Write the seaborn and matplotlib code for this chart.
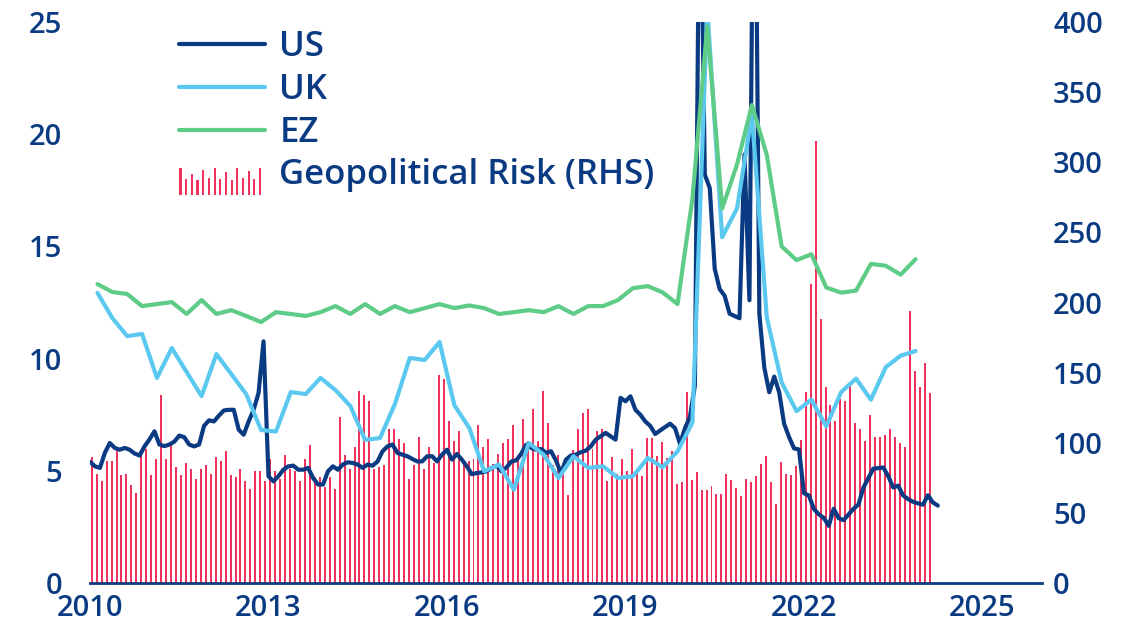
import numpy as np
import pandas as pd
import matplotlib
matplotlib.use("Agg")
import matplotlib.pyplot as plt
import seaborn as sns
from matplotlib.legend_handler import HandlerBase
from matplotlib.patches import Rectangle

# Datos: índices de incertidumbre (eje izq.) y riesgo geopolítico (eje der.)
us = [
    5.40, 5.20, 5.13, 5.80, 6.24, 6.02, 5.94, 6.02, 5.94, 5.77, 5.68, 6.09,
    6.40, 6.76, 6.17, 6.10, 6.17, 6.30, 6.57, 6.50, 6.17, 6.09, 6.17, 7.00,
    7.25, 7.20, 7.46, 7.69, 7.72, 7.72, 6.83, 6.61, 7.20, 7.72, 8.47, 10.77,
    4.76, 4.53, 4.76, 5.05, 5.20, 5.23, 5.05, 5.05, 5.13, 4.68, 4.39, 4.39,
    4.98, 5.20, 5.05, 5.28, 5.38, 5.35, 5.28, 5.13, 5.28, 5.23, 5.42, 5.87,
    6.09, 6.17, 5.80, 5.72, 5.65, 5.53, 5.42, 5.42, 5.65, 5.65, 5.42, 5.72,
    5.94, 5.50, 5.75, 5.50, 5.20, 4.85, 4.90, 4.93, 4.98, 5.13, 5.23, 4.98,
    5.15, 5.42, 5.47, 5.77, 6.17, 6.02, 5.94, 5.97, 5.80, 5.87, 5.45, 4.90,
    5.50, 5.68, 5.72, 5.83, 5.90, 6.09, 6.39, 6.54, 6.69, 6.54, 6.39, 8.25,
    8.10, 8.32, 7.72, 7.50, 7.20, 7.00, 6.64, 6.80, 6.95, 7.10, 6.90, 6.20,
    6.90, 7.40, 8.80, 34.0, 18.2, 17.6, 14.0, 13.1, 12.8, 12.0, 11.9, 11.8,
    19.1, 12.6, 38.0, 12.0, 9.60, 8.50, 9.20, 8.50, 7.10, 6.50, 6.00, 5.95,
    4.00, 3.90, 3.30, 3.06, 2.90, 2.55, 3.31, 2.89, 2.80, 3.06, 3.31, 3.50,
    4.26, 4.68, 5.10, 5.12, 5.15, 4.76, 4.26, 4.34, 3.90, 3.74, 3.62, 3.55,
    3.49, 3.91, 3.59, 3.45,
]

uk = [
    12.93, 11.81, 11.00, 11.10, 9.14, 10.47, 9.40, 8.33, 10.20, 9.31, 8.42, 6.82,
    6.75, 8.51, 8.42, 9.14, 8.60, 7.89, 6.38, 6.46, 7.98, 10.03, 9.94, 10.74,
    7.92, 6.91, 4.98, 5.28, 4.16, 6.24, 5.72, 4.68, 5.65, 5.13, 5.20, 4.68,
    4.76, 5.57, 5.16, 5.87, 7.15, 25.6, 15.41, 16.69, 20.87, 11.84, 8.94, 7.66,
    8.17, 6.98, 8.51, 9.11, 8.17, 9.62, 10.13, 10.34,
]

ez = [
    13.32, 12.97, 12.88, 12.34, 12.43, 12.52, 11.99, 12.61, 11.99, 12.16, 11.90, 11.63,
    12.07, 11.99, 11.90, 12.07, 12.34, 11.99, 12.43, 11.99, 12.34, 12.07, 12.25, 12.43,
    12.25, 12.37, 12.25, 11.99, 12.07, 12.16, 12.07, 12.34, 11.99, 12.34, 12.34, 12.61,
    13.14, 13.23, 12.95, 12.43, 17.12, 24.80, 16.69, 18.65, 21.30, 19.08, 15.00, 14.39,
    14.65, 13.17, 12.94, 13.03, 14.22, 14.14, 13.74, 14.43,
]

gpr = [
    89.6, 78.0, 72.5, 86.8, 86.8, 93.9, 76.8, 78.0, 69.7, 64.0, 91.0, 95.3,
    76.8, 88.2, 133.8, 88.2, 99.6, 82.5, 76.8, 85.3, 81.0, 73.9, 81.0, 83.9,
    78.0, 89.6, 86.8, 93.9, 76.8, 75.4, 81.0, 72.5, 66.8, 79.6, 79.6, 72.5,
    88.2, 79.6, 73.9, 91.0, 81.0, 79.6, 72.5, 88.2, 98.2, 75.4, 75.4, 68.2,
    75.4, 66.8, 118.1, 91.0, 81.0, 96.8, 136.7, 133.8, 129.6, 81.0, 82.5, 83.9,
    109.6, 109.6, 102.5, 99.6, 73.9, 83.9, 103.9, 81.0, 96.8, 85.3, 148.0, 145.2,
    115.3, 101.1, 108.2, 86.8, 86.8, 88.2, 112.4, 96.8, 102.5, 85.0, 92.0, 99.6,
    102.5, 112.4, 86.8, 116.7, 101.1, 123.8, 101.1, 136.7, 113.8, 83.9, 91.0, 81.0,
    62.5, 95.0, 109.6, 121.0, 123.8, 95.3, 108.2, 109.6, 72.5, 89.6, 78.0, 88.2,
    79.6, 95.3, 78.9, 76.3, 103.3, 103.3, 90.8, 100.2, 89.3, 94.0, 70.6, 72.2,
    135.9, 73.7, 78.9, 66.0, 66.0, 69.1, 63.4, 63.4, 77.4, 73.2, 67.5, 61.8,
    74.2, 71.7, 76.3, 85.1, 90.8, 71.7, 56.1, 86.2, 77.9, 76.8, 83.5, 101.7,
    135.9, 213.0, 315.0, 188.0, 139.5, 126.7, 115.3, 131.0, 129.5, 141.0, 113.9, 109.6,
    101.0, 119.6, 103.9, 103.9, 105.3, 109.6, 103.9, 99.6, 96.8, 193.7, 151.0, 139.5,
    156.6, 135.3,
]

labels = ["US", "UK", "EZ", "Geopolitical Risk (RHS)"]
year_ticks = [2010, 2013, 2016, 2019, 2022, 2025]

NAVY = "#0a3a82"
LIGHT = "#5bc8f0"
GREEN = "#5ecc87"
RED = "#f0335c"


def decimal_year(dates, offset_months=0.0):
    return np.asarray(dates.year + (dates.month - 1 + offset_months) / 12)


us_x = decimal_year(pd.date_range("2010-01-01", periods=len(us), freq="MS"))
q_x = decimal_year(pd.date_range("2010-01-01", periods=len(uk), freq="QS"), 1.5)
gpr_x = decimal_year(pd.date_range("2010-01-01", periods=len(gpr), freq="MS"), 0.35)


class HandlerBars(HandlerBase):
    """Leyenda con varias barritas, como en el gráfico original."""
    def create_artists(self, legend, orig_handle, xdescent, ydescent,
                       width, height, fontsize, trans):
        hs = [1.0, 0.6, 0.8, 0.55, 0.95, 0.65, 1.0, 0.6, 0.85, 0.55, 1.0, 0.65, 0.9, 0.6, 1.0]
        step = width / len(hs)
        arts = []
        for i, h in enumerate(hs):
            arts.append(Rectangle((-xdescent + i * step, -ydescent - height * 0.45),
                                  step * 0.36, height * 1.12 * h,
                                  facecolor=RED, edgecolor="none", transform=trans))
        return arts


sns.set_style("white")
plt.rcParams["font.family"] = ["Open Sans", "DejaVu Sans"]

fig = plt.figure(figsize=(11.45, 6.34), dpi=100)
ax1 = fig.add_axes([0.0786, 0.0804, 0.8314, 0.8849])
ax2 = ax1.twinx()

# Barras de riesgo geopolítico (eje derecho)
ax2.bar(gpr_x, gpr, width=0.4 / 12, color=RED, linewidth=0)
ax2.set_ylim(0, 400)
ax2.set_yticks(range(0, 401, 50))

# Líneas (eje izquierdo)
sns.lineplot(x=us_x, y=us, ax=ax1, color=NAVY, linewidth=3, label="US")
sns.lineplot(x=q_x, y=uk, ax=ax1, color=LIGHT, linewidth=3, label="UK")
sns.lineplot(x=q_x, y=ez, ax=ax1, color=GREEN, linewidth=3, label="EZ")
ax1.set_xlabel("")
ax1.set_ylabel("")

ax1.set_zorder(ax2.get_zorder() + 1)
ax1.patch.set_visible(False)

ax1.set_xlim(2010, 2026)
ax1.set_ylim(0, 25)
ax1.set_xticks(year_ticks)
ax1.set_yticks(range(0, 26, 5))

fs = 21
ax1.tick_params(axis="y", length=0, pad=20, labelsize=fs, labelcolor=NAVY)
ax2.tick_params(axis="y", length=0, pad=8, labelsize=fs, labelcolor=NAVY)
ax1.tick_params(axis="x", length=8, width=1.8, color=NAVY, pad=0,
                labelsize=fs, labelcolor=NAVY)
for lab in ax1.get_xticklabels() + ax1.get_yticklabels() + ax2.get_yticklabels():
    lab.set_fontweight("semibold")

for sp in ax2.spines.values():
    sp.set_visible(False)
for name, sp in ax1.spines.items():
    if name == "bottom":
        sp.set_color(NAVY)
        sp.set_linewidth(2)
    else:
        sp.set_visible(False)

lines = ax1.get_lines()[:3]
bar_proxy = Rectangle((0, 0), 1, 1, facecolor=RED)
leg = ax1.legend(handles=list(lines) + [bar_proxy], labels=labels,
                 loc="upper left", bbox_to_anchor=(0.094, 0.985), frameon=False,
                 fontsize=25, labelcolor=NAVY, handlelength=2.45, handletextpad=0.43,
                 labelspacing=0.25, borderpad=0, borderaxespad=0,
                 handler_map={bar_proxy: HandlerBars()})
for t in leg.get_texts():
    t.set_fontweight("semibold")

fig.savefig("out.png", dpi=100)
plt.close(fig)
